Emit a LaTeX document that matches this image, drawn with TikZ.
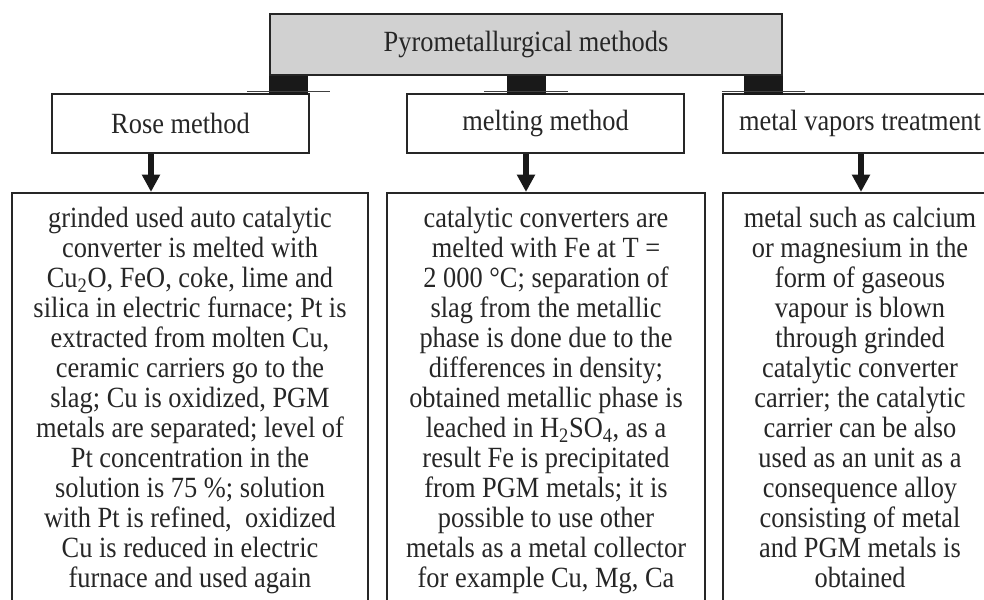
\documentclass[tikz,border=0pt]{standalone}
\usepackage{fontspec}
\setmainfont{Liberation Serif}[FakeStretch=0.9]
\usetikzlibrary{arrows.meta}

\begin{document}
\begin{tikzpicture}[x=0.75pt,y=-0.75pt,
    every node/.style={font=\fontsize{22pt}{22.5pt}\selectfont,text=black!85},
    headbox/.style={draw=black!85,line width=1.6pt,fill=black!18,minimum width=384pt,minimum height=45.75pt,inner sep=0pt},
    methodbox/.style={draw=black!85,line width=1.6pt,fill=white,minimum height=44.25pt,inner sep=0pt},
    bodybox/.style={draw=black!85,line width=1.6pt,minimum height=330pt,inner sep=0pt},
    bodytext/.style={align=center,inner sep=0pt,anchor=north},
    stub/.style={fill=black!90,minimum width=29.25pt,minimum height=14.25pt,inner sep=0pt},
    foot/.style={draw=black!75,line width=1pt},
    downarrow/.style={draw=black!90,line width=4.5pt,-{Triangle[width=13pt,length=13pt]}}]
    \useasboundingbox (0,0) rectangle (984,599);
    \clip (0,0) rectangle (984,599);
    % top
    \node[headbox] (pyro) at (526,44.5) {Pyrometallurgical methods};
    % methods
    \node[methodbox,minimum width=192.75pt] (rose) at (180.5,123.5) {Rose method};
    \node[methodbox,minimum width=207.75pt] (melting) at (545.5,123.5) {melting method};
    \node[methodbox,minimum width=205.5pt] (vapors) at (860,123.5) {metal vapors treatment};
    % stubs under the top box
    \node[stub,anchor=north west] (stubL) at (pyro.south west) {};
    \node[stub,anchor=north] (stubM) at (pyro.south) {};
    \node[stub,anchor=north east] (stubR) at (pyro.south east) {};
    \foreach \s in {stubL,stubM,stubR}
    \draw[foot] ([shift={(-22,-4)}]\s.south west) -- ([shift={(22,-4)}]\s.south east);
    % descriptions
    \node[bodybox,minimum width=267pt] (rosebody) at (190,413) {};
    \node[bodybox,minimum width=238.5pt] (meltingbody) at (546,413) {};
    \node[bodybox,minimum width=205.5pt] (vaporsbody) at (860,413) {};
    \node[bodytext] (rosetext) at ([yshift=-11.5pt]rosebody.north) {grinded used auto catalytic\\
      converter is melted with\\
      Cu\textsubscript{2}O, FeO, coke, lime and\\
      silica in electric furnace; Pt is\\
      extracted from molten Cu,\\
      ceramic carriers go to the\\
      slag; Cu is oxidized, PGM\\
      metals are separated; level of\\
      Pt concentration in the\\
      solution is 75 \%; solution\\
      with Pt is refined,\ \ oxidized\\
      Cu is reduced in electric\\
      furnace and used again};
    \node[bodytext] (meltingtext) at ([yshift=-11.5pt]meltingbody.north) {catalytic converters are\\
      melted with Fe at T =\\
      2 000 °C; separation of\\
      slag from the metallic\\
      phase is done due to the\\
      differences in density;\\
      obtained metallic phase is\\
      leached in H\textsubscript{2}SO\textsubscript{4}, as a\\
      result Fe is precipitated\\
      from PGM metals; it is\\
      possible to use other\\
      metals as a metal collector\\
      for example Cu, Mg, Ca};
    \node[bodytext] (vaporstext) at ([yshift=-11.5pt]vaporsbody.north) {metal such as calcium\\
      or magnesium in the\\
      form of gaseous\\
      vapour is blown\\
      through grinded\\
      catalytic converter\\
      carrier; the catalytic\\
      carrier can be also\\
      used as an unit as a\\
      consequence alloy\\
      consisting of metal\\
      and PGM metals is\\
      obtained};
    % arrows
    \coordinate (aRose) at (151,0);
    \coordinate (aMelting) at (526,0);
    \coordinate (aVapors) at (861,0);
    \draw[downarrow] (rose.south -| aRose) -- (rosebody.north -| aRose);
    \draw[downarrow] (melting.south -| aMelting) -- (meltingbody.north -| aMelting);
    \draw[downarrow] (vapors.south -| aVapors) -- (vaporsbody.north -| aVapors);
  \end{tikzpicture}
\end{document}
